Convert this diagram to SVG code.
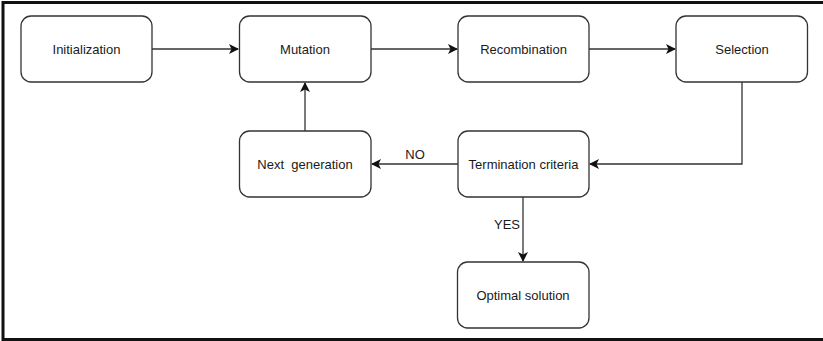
<svg xmlns="http://www.w3.org/2000/svg" width="823" height="341" viewBox="0 0 823 341">
  <style>
    .box { fill: #ffffff; stroke: #333333; stroke-width: 1.3; }
    .lbl { font-family: "Liberation Sans", Arial, sans-serif; font-size: 13px; fill: #1a1a1a; text-anchor: middle; dominant-baseline: central; }
    .edge { fill: none; stroke: #333333; stroke-width: 1.3; }
    .frame { fill: none; stroke: #111111; stroke-width: 3; }
  </style>
  <defs>
    <marker id="arrow" viewBox="0 0 10 10" refX="9" refY="5" markerWidth="10" markerHeight="10" markerUnits="userSpaceOnUse" orient="auto">
      <path d="M0,0 L10,5 L0,10 L2.5,5 Z" fill="#111111"/>
    </marker>
  </defs>
  <rect width="823" height="341" fill="#ffffff"/>

  <!-- outer frame (left, top, bottom) -->
  <path class="frame" d="M3,341 V2.5 H823"/>
  <path class="frame" d="M3,339.5 H823"/>

  <g id="connectors">
    <path class="edge" d="M152,49 H238" marker-end="url(#arrow)"/>
    <path class="edge" d="M371,49 H457" marker-end="url(#arrow)"/>
    <path class="edge" d="M589,49 H675" marker-end="url(#arrow)"/>
    <path class="edge" d="M742,82 V164 H590" marker-end="url(#arrow)"/>
    <path class="edge" d="M458,164 H372" marker-end="url(#arrow)"/>
    <path class="edge" d="M305,131 V83" marker-end="url(#arrow)"/>
    <path class="edge" d="M523,197 V261" marker-end="url(#arrow)"/>
    <text class="lbl" x="415" y="154">NO</text>
    <text class="lbl" x="507" y="224">YES</text>
  </g>

  <g id="initialization">
    <rect class="box" x="21" y="16" width="131" height="66" rx="10"/>
    <text class="lbl" x="86.5" y="49">Initialization</text>
  </g>
  <g id="mutation">
    <rect class="box" x="239.5" y="16" width="131.5" height="66" rx="10"/>
    <text class="lbl" x="305" y="49">Mutation</text>
  </g>
  <g id="recombination">
    <rect class="box" x="458" y="16" width="131" height="66" rx="10"/>
    <text class="lbl" x="523.5" y="49">Recombination</text>
  </g>
  <g id="selection">
    <rect class="box" x="676" y="16" width="131.5" height="66" rx="10"/>
    <text class="lbl" x="742" y="49">Selection</text>
  </g>
  <g id="next-generation">
    <rect class="box" x="239.5" y="131" width="131.5" height="66" rx="10"/>
    <text class="lbl" x="305" y="164" xml:space="preserve">Next  generation</text>
  </g>
  <g id="termination-criteria">
    <rect class="box" x="458" y="131" width="131" height="66" rx="10"/>
    <text class="lbl" x="523.5" y="164">Termination criteria</text>
  </g>
  <g id="optimal-solution">
    <rect class="box" x="457.5" y="262" width="131.5" height="66" rx="10"/>
    <text class="lbl" x="523" y="295">Optimal solution</text>
  </g>
</svg>
